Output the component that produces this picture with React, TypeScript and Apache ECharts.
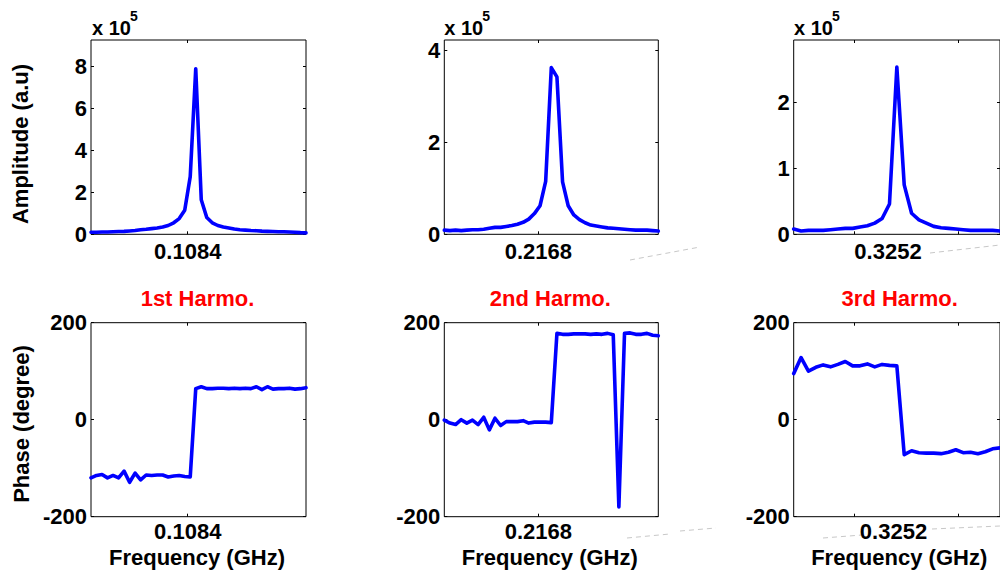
import React, { useEffect, useRef } from 'react';
import * as echarts from 'echarts';

// ---------------- data ----------------
const harmonicTitles = ['1st Harmo.', '2nd Harmo.', '3rd Harmo.'];
const harmonicFreqLabels = [0.1084, 0.2168, 0.3252];
// first sampled frequency (GHz) of each harmonic window and the FFT bin spacing
const freqStart = [0.10489, 0.21346, 0.322641];
const FREQ_STEP = 0.0002;
// extra tick marks drawn on the 3rd harmonic frequency axis
const thirdFreqTicks = [0.32429, 0.32712];

// amplitudes in units of 1e5 (a.u)
const amp1 = [0.10, 0.10, 0.11, 0.11, 0.12, 0.13, 0.14, 0.16, 0.18, 0.22,
  0.24, 0.27, 0.30, 0.35, 0.42, 0.55, 0.75, 1.15, 2.75, 7.90,
  1.65, 0.80, 0.55, 0.42, 0.35, 0.30, 0.25, 0.22, 0.20, 0.18,
  0.17, 0.15, 0.14, 0.13, 0.12, 0.12, 0.11, 0.10, 0.08, 0.07];
const amp2 = [0.09, 0.08, 0.09, 0.08, 0.09, 0.10, 0.10, 0.11, 0.13, 0.15,
  0.15, 0.17, 0.19, 0.22, 0.26, 0.33, 0.45, 0.62, 1.15, 3.62,
  3.42, 1.14, 0.62, 0.42, 0.32, 0.25, 0.20, 0.18, 0.16, 0.14,
  0.13, 0.12, 0.11, 0.10, 0.09, 0.09, 0.09, 0.08, 0.07];
const amp3 = [0.08, 0.05, 0.06, 0.06, 0.06, 0.07, 0.08, 0.09, 0.09, 0.11,
  0.13, 0.17, 0.24, 0.46, 2.54, 0.75, 0.32, 0.22, 0.17, 0.12,
  0.10, 0.09, 0.08, 0.07, 0.06, 0.06, 0.06, 0.06, 0.05];

// phases in degrees
const phase1 = [-120, -115, -113, -120, -115, -120, -106, -129, -110, -124,
  -114, -115, -114, -114, -118, -116, -115, -117, -118, 64,
  68, 64, 64, 65, 65, 64, 65, 64, 65, 64,
  68, 62, 68, 63, 64, 64, 65, 63, 64, 66];
const phase2 = [-1, -7, -10, 0, -7, -1, -10, 5, -21, 3,
  -12, -4, -4, -4, -2, -7, -5, -5, -5, -6,
  178, 176, 176, 177, 177, 177, 176, 177, 176, 178,
  175, -180, 178, 179, 176, 176, 178, 174, 173];
const phase3 = [95, 128, 100, 108, 113, 109, 114, 120, 111, 111,
  115, 109, 114, 112, 111, -72, -64, -68, -69, -69,
  -70, -67, -62, -68, -67, -70, -66, -60, -58];

const ampTicks = [[0, 2, 4, 6, 8], [0, 2, 4], [0, 1, 2]];
const ampMax = [9.27, 4.22, 2.95];
const phaseTicks = [-200, 0, 200];
const PHASE_MIN = -200;
const PHASE_MAX = 200;

const amps = [amp1, amp2, amp3];
const phases = [phase1, phase2, phase3];

// ---------------- layout / style ----------------
const FONT = '"Liberation Sans", Arial, Helvetica, sans-serif';
const COL_LEFT = [91, 444.3, 793.7];
const COL_WIDTH = [215, 214, 214];
const ROW_TOP = [40, 322.7];
const ROW_HEIGHT = [194.3, 194];
const BLUE = '#0000ff';

const labelStyle = { fontSize: 22, fontWeight: 'bold', fontFamily: FONT, color: '#000' };

function buildOption() {
  const grid: any[] = [];
  const xAxis: any[] = [];
  const yAxis: any[] = [];
  const series: any[] = [];

  for (let row = 0; row < 2; row++) {
    for (let col = 0; col < 3; col++) {
      const g = row * 3 + col;
      const vals = row === 0 ? amps[col] : phases[col];
      const xMin = freqStart[col];
      const xMax = freqStart[col] + (vals.length - 1) * FREQ_STEP;
      grid.push({
        left: COL_LEFT[col], top: ROW_TOP[row], width: COL_WIDTH[col], height: ROW_HEIGHT[row],
        show: true, borderColor: '#000', borderWidth: 1, backgroundColor: '#fff',
        containLabel: false,
      });
      const tickVals = col === 2 ? thirdFreqTicks : [harmonicFreqLabels[col]];
      const xLabelPad = col === 2 && row === 1 ? [0, 0, 0, 11] : 0;
      const tick = (vals2: number[]) => ({
        show: true, inside: true, length: 3, customValues: vals2, lineStyle: { color: '#000', width: 1 },
      });
      xAxis.push({
        type: 'value', gridIndex: g, position: 'bottom', min: xMin, max: xMax,
        axisLine: { show: false, onZero: false }, splitLine: { show: false },
        axisTick: tick(tickVals),
        axisLabel: {
          ...labelStyle, margin: row === 0 ? 8 : 6, padding: xLabelPad, lineHeight: 18,
          customValues: [harmonicFreqLabels[col]],
          formatter: (v: number) => v.toFixed(4),
        },
      });
      xAxis.push({
        type: 'value', gridIndex: g, position: 'top', min: xMin, max: xMax,
        axisLine: { show: false, onZero: false }, splitLine: { show: false },
        axisTick: tick(tickVals),
        axisLabel: { show: false },
      });
      const yMin = row === 0 ? 0 : PHASE_MIN;
      const yMax = row === 0 ? ampMax[col] : PHASE_MAX;
      const yTicks = row === 0 ? ampTicks[col] : phaseTicks;
      yAxis.push({
        type: 'value', gridIndex: g, position: 'left', min: yMin, max: yMax,
        axisLine: { show: false, onZero: false }, splitLine: { show: false },
        axisTick: tick(yTicks),
        axisLabel: { ...labelStyle, margin: 4, customValues: yTicks, formatter: (v: number) => String(v) },
      });
      yAxis.push({
        type: 'value', gridIndex: g, position: 'right', min: yMin, max: yMax,
        axisLine: { show: false, onZero: false }, splitLine: { show: false },
        axisTick: tick(yTicks),
        axisLabel: { show: false },
      });
      series.push({
        type: 'line',
        xAxisIndex: 2 * g,
        yAxisIndex: 2 * g,
        data: vals.map((v, i) => [freqStart[col] + i * FREQ_STEP, v]),
        showSymbol: false,
        symbol: 'none',
        lineStyle: { color: BLUE, width: 3.6, join: 'round', cap: 'round' },
        silent: true,
        clip: true,
      });
    }
  }

  const txt = (text: string, x: number, y: number, size: number, color = '#000', align = 'center', rotation = 0, lineHeight?: number) => ({
    type: 'text', x, y, rotation, silent: true, z: 100,
    style: {
      text, fill: color, fontSize: size, fontWeight: 'bold', fontFamily: FONT,
      align, verticalAlign: 'middle', lineHeight: lineHeight ?? size,
    },
  });
  const dash = (points: number[][]) => ({
    type: 'polyline', silent: true, z: 0,
    shape: { points },
    style: { stroke: '#c8c8c8', lineWidth: 1, lineDash: [5, 4], fill: null },
  });

  const graphic: any[] = [
    dash([[630, 260], [700, 247]]),
    dash([[930, 253], [1000, 245]]),
    dash([[627, 538], [670, 534]]),
    dash([[680, 531], [716, 528]]),
    dash([[823, 538], [862, 535]]),
    dash([[932, 529], [1000, 526]]),
    txt('Amplitude (a.u)', 20, 144, 22, '#000', 'center', Math.PI / 2),
    txt('Phase (degree)', 21.5, 424, 22, '#000', 'center', Math.PI / 2),
  ];
  const expLeft = [92, 444.3, 794];
  for (let col = 0; col < 3; col++) {
    const center = COL_LEFT[col] + COL_WIDTH[col] / 2;
    graphic.push(txt('x 10', expLeft[col], 27.5, 20, '#000', 'left'));
    graphic.push(txt('5', expLeft[col] + 38, 16, 14, '#000', 'left'));
    graphic.push(txt(harmonicTitles[col], center - 1, 298, 22, '#ff0000', 'center'));
    graphic.push(txt('Frequency (GHz)', center - 1.5, 557, 22, '#000', 'center', 0, 18));
  }

  return {
    animation: false,
    backgroundColor: '#fff',
    grid, xAxis, yAxis, series, graphic,
  };
}

export default function App() {
  const ref = useRef<HTMLDivElement>(null);
  useEffect(() => {
    if (!ref.current) return;
    const chart = echarts.init(ref.current, undefined, { renderer: 'svg' });
    chart.setOption(buildOption() as any);
    return () => chart.dispose();
  }, []);
  return (
    <div
      ref={ref}
      style={{ position: 'absolute', left: 0, top: 0, width: 1000, height: 571, background: '#fff' }}
    />
  );
}
